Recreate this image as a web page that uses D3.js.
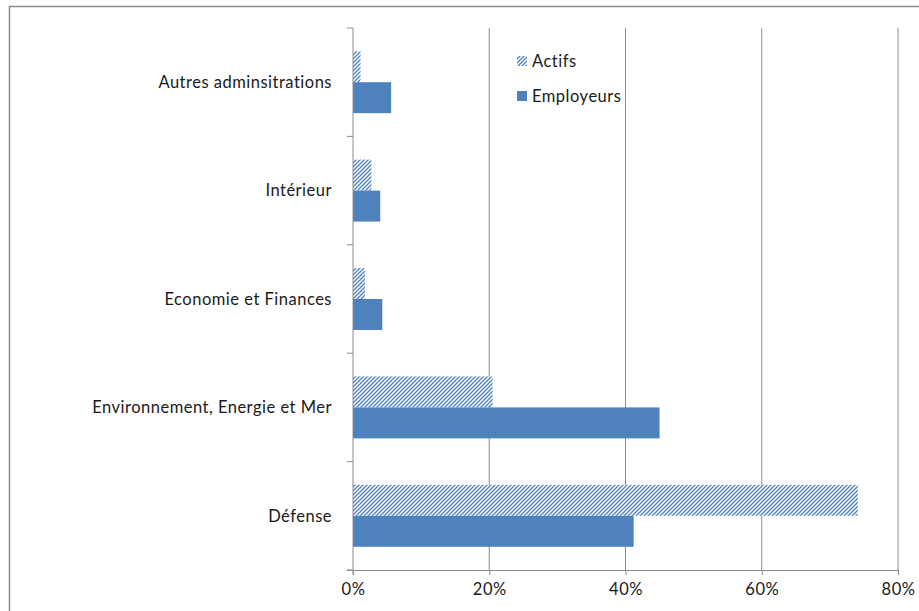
<!DOCTYPE html>
<html><head><meta charset="utf-8">
<script src="https://cdn.jsdelivr.net/npm/d3@7"></script>
<style>body{margin:0;background:#fff}svg{display:block}text{font-family:Lato,"Open Sans",sans-serif;fill:#1a1a1a;letter-spacing:0.5px}</style>
</head><body>
<script>
const categories = ["Autres adminsitrations","Intérieur","Economie et Finances","Environnement, Energie et Mer","Défense"];
const seriesNames = ["Actifs","Employeurs"];
const actifs = [0.011,0.027,0.0175,0.205,0.741];
const employeurs = [0.056,0.040,0.043,0.450,0.412];
const xTicks = [0,0.2,0.4,0.6,0.8];

const W=919,H=611;
const svg=d3.select("body").append("svg").attr("width",W).attr("height",H);
const defs=svg.append("defs");
const pat=defs.append("pattern").attr("id","hatch").attr("patternUnits","userSpaceOnUse").attr("width",4).attr("height",4);
pat.append("rect").attr("width",4).attr("height",4).attr("fill","#fff");
pat.append("path").attr("d","M-1,1 l2,-2 M0,4 l4,-4 M3,5 l2,-2").attr("stroke","#4F81BD").attr("stroke-width",1.3);

svg.append("rect").attr("x",9.5).attr("y",6.5).attr("width",930).attr("height",630).attr("fill","none").attr("stroke","#8c8c8c").attr("stroke-width",1.5);

const x=d3.scaleLinear().domain([0,0.8]).range([353,898]);
const y=d3.scaleBand().domain(categories).range([28,570]).paddingInner(0).paddingOuter(0);
const groupW=y.bandwidth()/1.75;
const sub=d3.scaleBand().domain(seriesNames).range([(y.bandwidth()-groupW)/2,(y.bandwidth()+groupW)/2]);

// gridlines
svg.append("g").selectAll("line").data(xTicks.filter(d=>d>0)).join("line")
  .attr("x1",d=>x(d)).attr("x2",d=>x(d)).attr("y1",28).attr("y2",570)
  .attr("stroke","#8c8c8c").attr("stroke-width",1);

// bars
const fills={Actifs:"url(#hatch)",Employeurs:"#4F81BD"};
const vals={Actifs:actifs,Employeurs:employeurs};
seriesNames.forEach(s=>{
  svg.append("g").selectAll("rect").data(categories).join("rect")
    .attr("x",x(0)).attr("y",(d)=>y(d)+sub(s)).attr("height",sub.bandwidth())
    .attr("width",(d,i)=>x(vals[s][i])-x(0)).attr("fill",fills[s]);
});

// bottom axis
const xa=d3.axisBottom(x).tickValues(xTicks).tickFormat(d3.format(".0%")).tickSize(5).tickPadding(8);
const gx=svg.append("g").attr("transform","translate(0,570)").call(xa);
gx.select(".domain").attr("stroke","#8c8c8c").attr("d","M347,0.5H898");
gx.selectAll(".tick line").attr("stroke","#8c8c8c");
gx.selectAll(".tick text").attr("font-size",16.5).style("font-family","Lato").attr("fill","#1a1a1a");

// left axis
const gy=svg.append("g");
gy.append("line").attr("x1",353).attr("x2",353).attr("y1",28).attr("y2",575).attr("stroke","#8c8c8c");
const bounds=categories.map(c=>y(c)).concat([y.range()[1]]);
gy.selectAll("line.t").data(bounds).join("line").attr("class","t")
  .attr("x1",347).attr("x2",353).attr("y1",d=>d).attr("y2",d=>d).attr("stroke","#8c8c8c");
gy.selectAll("text").data(categories).join("text")
  .attr("x",332).attr("y",d=>y(d)+y.bandwidth()/2).attr("dy","0.35em")
  .attr("text-anchor","end").attr("font-size",16.5).text(d=>d);

// legend
const lg=svg.append("g");
seriesNames.forEach((s,i)=>{
  const cy=61+i*35;
  lg.append("rect").attr("x",517).attr("y",cy-5).attr("width",10).attr("height",10).attr("fill",fills[s]);
  lg.append("text").attr("x",532).attr("y",cy).attr("dy","0.35em").attr("font-size",16.5).text(s);
});
</script>
</body></html>
